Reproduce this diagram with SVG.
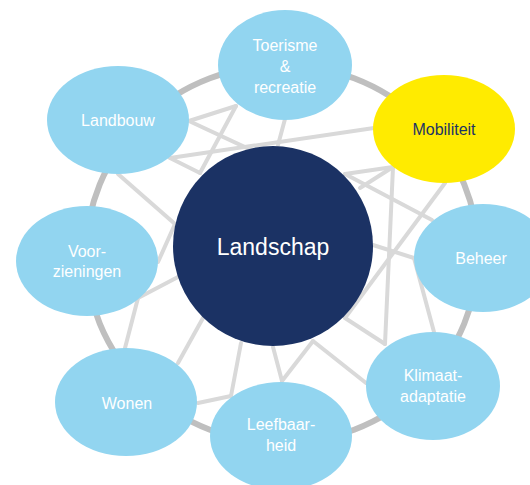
<svg xmlns="http://www.w3.org/2000/svg" width="530" height="485" viewBox="0 0 530 485">
<style>
.ring{fill:none;stroke:#bfbfbf;stroke-width:6}
.ln{stroke:#d9d9d9;stroke-width:4;stroke-linecap:round;fill:none}
.nd{fill:#92d5f0}
.t{font-family:"Liberation Sans",Arial,sans-serif;font-size:16px;fill:#ffffff;text-anchor:middle}
</style>
<rect width="530" height="485" fill="#ffffff"/>
<g id="connectors">
<ellipse class="ring" cx="282" cy="254" rx="196" ry="189"/>
<line class="ln" x1="189" y1="121" x2="236" y2="106"/>
<line class="ln" x1="189" y1="121" x2="290" y2="168"/>
<line class="ln" x1="170" y1="158" x2="374" y2="128"/>
<line class="ln" x1="170" y1="158" x2="200" y2="173"/>
<line class="ln" x1="236" y1="106" x2="200" y2="173"/>
<line class="ln" x1="118" y1="174" x2="175" y2="224"/>
<line class="ln" x1="175" y1="224" x2="158" y2="262"/>
<line class="ln" x1="138" y1="298" x2="178" y2="277"/>
<line class="ln" x1="138" y1="298" x2="125" y2="348"/>
<line class="ln" x1="178" y1="363" x2="203" y2="318"/>
<line class="ln" x1="198" y1="403" x2="231" y2="396"/>
<line class="ln" x1="231" y1="396" x2="241" y2="343"/>
<line class="ln" x1="282" y1="381" x2="273" y2="347"/>
<line class="ln" x1="282" y1="381" x2="313" y2="341"/>
<line class="ln" x1="313" y1="341" x2="366" y2="383"/>
<line class="ln" x1="345" y1="318" x2="385" y2="344"/>
<line class="ln" x1="393" y1="167" x2="385" y2="344"/>
<line class="ln" x1="393" y1="167" x2="345" y2="174"/>
<line class="ln" x1="393" y1="167" x2="360" y2="188"/>
<line class="ln" x1="345" y1="174" x2="432" y2="220"/>
<line class="ln" x1="445" y1="183" x2="345" y2="318"/>
<line class="ln" x1="373" y1="245" x2="414" y2="258"/>
<line class="ln" x1="414" y1="258" x2="434" y2="332"/>
<line class="ln" x1="285" y1="119" x2="278" y2="145"/>
</g>
<g id="landbouw"><ellipse class="nd" cx="118" cy="120" rx="71" ry="54"/><text class="t" x="118" y="126">Landbouw</text></g>
<g id="toerisme"><ellipse class="nd" cx="285" cy="65" rx="67" ry="55"/><text class="t" x="285" y="51">Toerisme</text><text class="t" x="285" y="72">&amp;</text><text class="t" x="285" y="93">recreatie</text></g>
<g id="mobiliteit"><ellipse cx="444" cy="129" rx="71" ry="54" fill="#ffeb00"/><text class="t" x="444" y="135" style="fill:#1c3464">Mobiliteit</text></g>
<g id="beheer"><ellipse class="nd" cx="483" cy="258" rx="69" ry="54"/><text class="t" x="481" y="264">Beheer</text></g>
<g id="klimaat"><ellipse class="nd" cx="433" cy="386" rx="67" ry="54"/><text class="t" x="433" y="381">Klimaat-</text><text class="t" x="433" y="402">adaptatie</text></g>
<g id="leefbaarheid"><ellipse class="nd" cx="281" cy="436" rx="71" ry="54"/><text class="t" x="281" y="430">Leefbaar-</text><text class="t" x="281" y="451">heid</text></g>
<g id="wonen"><ellipse class="nd" cx="126" cy="402" rx="71" ry="54"/><text class="t" x="127" y="409">Wonen</text></g>
<g id="voorzieningen"><ellipse class="nd" cx="87" cy="261" rx="71" ry="55"/><text class="t" x="87" y="257">Voor-</text><text class="t" x="87" y="277">zieningen</text></g>
<g id="landschap"><circle cx="273" cy="246" r="100" fill="#1b3264"/><text class="t" x="273" y="255" style="font-size:23px">Landschap</text></g>
</svg>
